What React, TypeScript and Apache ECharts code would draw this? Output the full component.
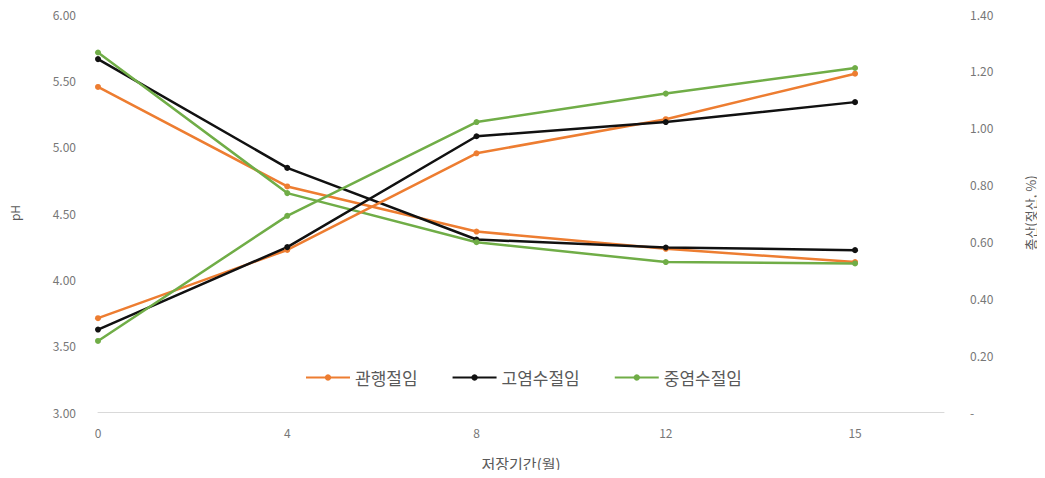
import React, { useEffect, useRef } from "react";
import * as echarts from "echarts";

const categories = ["0", "4", "8", "12", "15"];
const seriesNames = ["관행절임", "고염수절임", "중염수절임"];
const phConventional = [5.45, 4.7, 4.36, 4.23, 4.13];
const phHighSalt = [5.66, 4.84, 4.3, 4.24, 4.22];
const phMidSalt = [5.71, 4.65, 4.28, 4.13, 4.12];
const acidConventional = [0.33, 0.57, 0.91, 1.03, 1.19];
const acidHighSalt = [0.29, 0.58, 0.97, 1.02, 1.09];
const acidMidSalt = [0.25, 0.69, 1.02, 1.12, 1.21];
const colors = ["#ED7D31", "#111111", "#70AD47"];

const toPairs = (vals: number[]) => vals.map((v, i) => [i, v]);

export default function App() {
  const ref = useRef<HTMLDivElement>(null);
  useEffect(() => {
    if (!ref.current) return;
    const chart = echarts.init(ref.current, undefined, { renderer: "svg" });
    const font = "'Noto Sans CJK KR', 'Noto Sans', sans-serif";
    const mk = (name: string, data: number[], color: string, yIdx: number) => ({
      name,
      type: "line",
      yAxisIndex: yIdx,
      data: toPairs(data),
      symbol: "circle",
      symbolSize: 6,
      lineStyle: { color, width: 2.5 },
      itemStyle: { color },
    });
    chart.setOption({
      animation: false,
      textStyle: { fontFamily: font },
      grid: { left: 96, right: 100, top: 14, bottom: 66, containLabel: false },
      legend: {
        data: seriesNames,
        top: 364,
        left: 300,
        itemWidth: 44,
        itemHeight: 8,
        itemGap: 34,
        textStyle: { color: "#595959", fontSize: 17, fontFamily: font },
      },
      xAxis: {
        type: "value",
        min: 0,
        max: 4.47,
        interval: 1,
        name: "저장기간(월)",
        nameLocation: "middle",
        nameGap: 44,
        nameTextStyle: { color: "#595959", fontSize: 15, fontFamily: font },
        axisLine: { show: true, lineStyle: { color: "#d9d9d9", width: 1 } },
        axisTick: { show: false },
        splitLine: { show: false },
        axisLabel: {
          color: "#777",
          fontSize: 12,
          margin: 14,
          showMaxLabel: false,
          formatter: (v: number) => (Number.isInteger(v) && categories[v] !== undefined ? categories[v] : ""),
        },
      },
      yAxis: [
        {
          type: "value",
          min: 3,
          max: 6,
          interval: 0.5,
          name: "pH",
          nameLocation: "middle",
          nameRotate: 90,
          nameGap: 78,
          nameTextStyle: { color: "#595959", fontSize: 12, fontFamily: font },
          axisLine: { show: false },
          axisTick: { show: false },
          splitLine: { show: false },
          axisLabel: { color: "#777", fontSize: 12, margin: 22, formatter: (v: number) => v.toFixed(2) },
        },
        {
          type: "value",
          min: 0,
          max: 1.4,
          interval: 0.2,
          position: "right",
          name: "총산(젖산, %)",
          nameLocation: "middle",
          nameRotate: 90,
          nameGap: 80,
          nameTextStyle: { color: "#595959", fontSize: 13, fontFamily: font },
          axisLine: { show: false },
          axisTick: { show: false },
          splitLine: { show: false },
          axisLabel: {
            color: "#777",
            fontSize: 12,
            margin: 26,
            formatter: (v: number) => (v === 0 ? "-" : v.toFixed(2)),
          },
        },
      ],
      series: [
        mk(seriesNames[0], phConventional, colors[0], 0),
        mk(seriesNames[1], phHighSalt, colors[1], 0),
        mk(seriesNames[2], phMidSalt, colors[2], 0),
        mk(seriesNames[0], acidConventional, colors[0], 1),
        mk(seriesNames[1], acidHighSalt, colors[1], 1),
        mk(seriesNames[2], acidMidSalt, colors[2], 1),
      ],
    });
    return () => chart.dispose();
  }, []);
  return <div ref={ref} style={{ width: 1045, height: 478, margin: -8 }} />;
}
